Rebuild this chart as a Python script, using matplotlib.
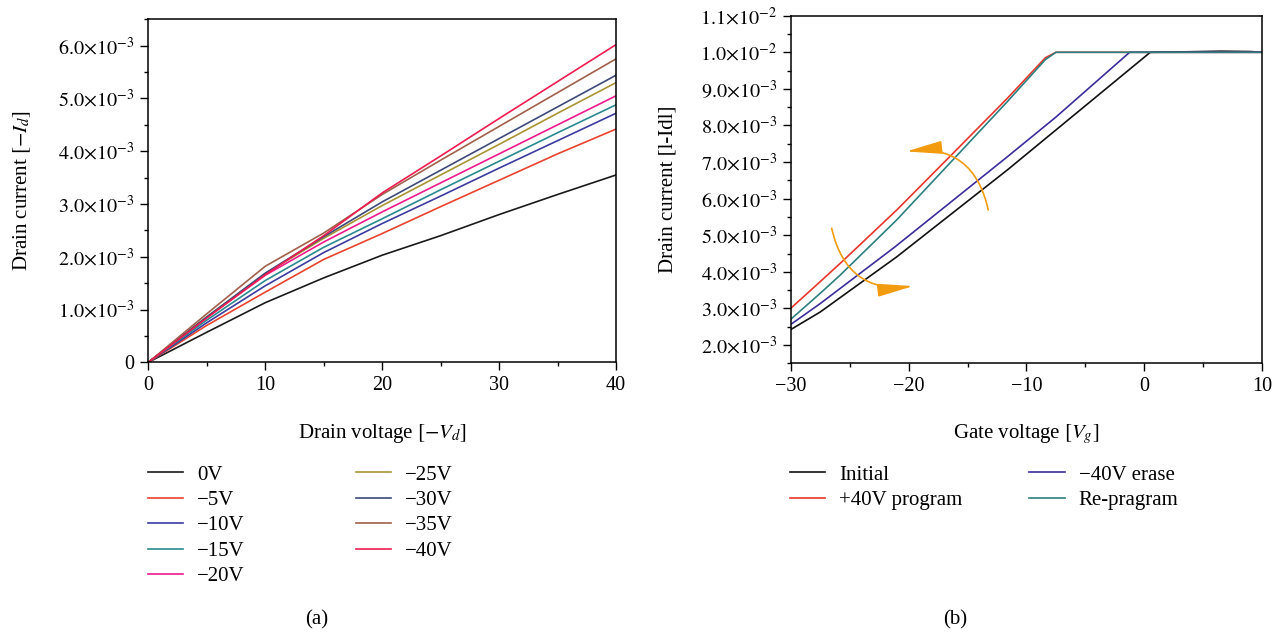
import numpy as np
import matplotlib
matplotlib.use("Agg")
import matplotlib.pyplot as plt
from matplotlib.ticker import FixedLocator, MultipleLocator

plt.rcParams['font.family'] = ['Liberation Serif', 'DejaVu Serif']
plt.rcParams['mathtext.fontset'] = 'stix'

# ---- (a) output curves ----
vd = [0, 5, 10, 15, 20, 25, 30, 35, 40]
id_0 = [0, 0.57, 1.13, 1.60, 2.03, 2.40, 2.80, 3.18, 3.55]
id_5 = [0, 0.70, 1.33, 1.95, 2.44, 2.95, 3.45, 3.95, 4.42]
id_10 = [0, 0.75, 1.45, 2.08, 2.63, 3.15, 3.68, 4.20, 4.72]
id_15 = [0, 0.80, 1.55, 2.18, 2.72, 3.27, 3.81, 4.35, 4.88]
id_20 = [0, 0.85, 1.65, 2.28, 2.85, 3.40, 3.95, 4.50, 5.05]
id_25 = [0, 0.86, 1.68, 2.35, 2.97, 3.55, 4.13, 4.72, 5.30]
id_30 = [0, 0.86, 1.69, 2.38, 3.04, 3.64, 4.24, 4.84, 5.44]
id_35 = [0, 0.92, 1.82, 2.45, 3.18, 3.83, 4.47, 5.11, 5.75]
id_40 = [0, 0.84, 1.66, 2.40, 3.21, 3.91, 4.62, 5.32, 6.02]
labels_a = ['0V', '\u22125V', '\u221210V', '\u221215V', '\u221220V',
            '\u221225V', '\u221230V', '\u221235V', '\u221240V']
colors_a = ['#1a1a1a', '#e8432c', '#3b3ba0', '#2a8a8f', '#ee1a8c',
            '#a89432', '#3d4a7a', '#a0604a', '#ee1c4f']

# ---- (b) transfer curves ----
vg_init = [-30, -27.5, -21.0, -11.6, -4.4, 0.5, 3, 6.5, 9, 10]
ig_init = [2.42, 2.90, 4.41, 6.79, 8.70, 10.0, 10.01, 10.03, 10.02, 10.0]
vg_erase = [-30, -27.5, -21.2, -11.6, -7.5, -1.25, 10]
ig_erase = [2.56, 3.13, 4.67, 7.15, 8.23, 10.0, 10.0]
vg_prog = [-30, -27.5, -25.8, -21.0, -16.5, -11.6, -8.4, -7.5, 10]
ig_prog = [3.00, 3.73, 4.23, 5.69, 7.15, 8.75, 9.85, 10.0, 10.0]
vg_repr = [-30, -27.5, -25.8, -21.0, -16.5, -11.6, -8.4, -7.5, 10]
ig_repr = [2.70, 3.41, 3.91, 5.42, 6.97, 8.66, 9.80, 10.0, 10.0]
labels_b = ['Initial', '+40V program', '\u221240V erase', 'Re-pragram']
colors_b = ['#111111', '#e8362a', '#3a2d9c', '#2d7f80']

ticks_a = [0, 1e-3, 2e-3, 3e-3, 4e-3, 5e-3, 6e-3]
ticklabels_a = ['0'] + [r'$%d.0{\times}10^{-3}$' % k for k in range(1, 7)]
ticks_b = [k * 1e-3 for k in range(2, 12)]
ticklabels_b = [r'$%d.0{\times}10^{-3}$' % k for k in range(2, 10)] + \
    [r'$1.0{\times}10^{-2}$', r'$1.1{\times}10^{-2}$']

fs = 15
tfs = 14.5
fig = plt.figure(figsize=(12.73, 6.33), dpi=100)
ax1 = fig.add_axes([0.1165, 0.4276, 0.3674, 0.5419])
ax2 = fig.add_axes([0.6211, 0.4261, 0.3705, 0.5491])

series_a = [id_0, id_5, id_10, id_15, id_20, id_25, id_30, id_35, id_40]
for ys, lab, c in zip(series_a, labels_a, colors_a):
    ax1.plot(vd, np.array(ys) * 1e-3, color=c, lw=1.2, label=lab)
ax1.set_xlim(0, 40)
ax1.set_ylim(0, 6.5e-3)
ax1.xaxis.set_major_locator(MultipleLocator(10))
ax1.xaxis.set_minor_locator(MultipleLocator(5))
ax1.yaxis.set_major_locator(FixedLocator(ticks_a))
ax1.set_yticklabels(ticklabels_a)
ax1.yaxis.set_minor_locator(MultipleLocator(0.5e-3))
ax1.set_xlabel(r'Drain voltage $[-V_d]$', fontsize=fs)
ax1.set_ylabel(r'Drain current $[-I_d]$', fontsize=fs)
ax1.xaxis.set_label_coords(0.5, -0.175)
ax1.yaxis.set_label_coords(-0.247, 0.5)

ax2.plot(vg_init, np.array(ig_init) * 1e-3, color=colors_b[0], lw=1.2, label=labels_b[0])
ax2.plot(vg_prog, np.array(ig_prog) * 1e-3, color=colors_b[1], lw=1.2, label=labels_b[1])
ax2.plot(vg_erase, np.array(ig_erase) * 1e-3, color=colors_b[2], lw=1.2, label=labels_b[2])
ax2.plot(vg_repr, np.array(ig_repr) * 1e-3, color=colors_b[3], lw=1.2, label=labels_b[3])
ax2.set_xlim(-30, 10)
ax2.set_ylim(1.5e-3, 1.1e-2)
ax2.xaxis.set_major_locator(MultipleLocator(10))
ax2.xaxis.set_minor_locator(MultipleLocator(5))
ax2.yaxis.set_major_locator(FixedLocator(ticks_b))
ax2.set_yticklabels(ticklabels_b)
ax2.yaxis.set_minor_locator(MultipleLocator(0.5e-3))
ax2.set_xlabel(r'Gate voltage $[V_g]$', fontsize=fs)
ax2.set_ylabel('Drain current [l-Idl]', fontsize=fs)
ax2.xaxis.set_label_coords(0.5, -0.17)
ax2.yaxis.set_label_coords(-0.24, 0.5)

# curved arrows
orange = '#f29b0e'
ax2.annotate('', xy=(-20.2, 7.29e-3), xytext=(-13.24, 5.69e-3),
             arrowprops=dict(arrowstyle='-|>,head_length=2.2,head_width=0.4',
                             connectionstyle='arc3,rad=0.45', color=orange,
                             lw=1.2, shrinkA=0, shrinkB=0))
ax2.annotate('', xy=(-19.6, 3.61e-3), xytext=(-26.52, 5.19e-3),
             arrowprops=dict(arrowstyle='-|>,head_length=2.2,head_width=0.4',
                             connectionstyle='arc3,rad=0.45', color=orange,
                             lw=1.2, shrinkA=0, shrinkB=0))

for ax in (ax1, ax2):
    for s in ax.spines.values():
        s.set_linewidth(1.1)
    ax.tick_params(which='major', direction='out', length=6, width=1.0,
                   labelsize=tfs, pad=4)
    ax.tick_params(which='minor', direction='out', length=3, width=1.0)

ax1.legend(loc='upper left', bbox_to_anchor=(148 / 1273, 1 - 465 / 633),
           bbox_transform=fig.transFigure, ncol=2, frameon=False,
           fontsize=fs, handlelength=1.7, handletextpad=0.67,
           columnspacing=5.3, labelspacing=0.28, borderpad=0, borderaxespad=0)
ax2.legend(loc='upper left', bbox_to_anchor=(790 / 1273, 1 - 465 / 633),
           bbox_transform=fig.transFigure, ncol=2, frameon=False,
           fontsize=fs, handlelength=1.7, handletextpad=0.67,
           columnspacing=3.2, labelspacing=0.28, borderpad=0, borderaxespad=0)

fig.text(317 / 1273, 1 - 620 / 633, '(a)', ha='center', va='center', fontsize=fs)
fig.text(955 / 1273, 1 - 620 / 633, '(b)', ha='center', va='center', fontsize=fs)

fig.savefig('out.png', dpi=100)
